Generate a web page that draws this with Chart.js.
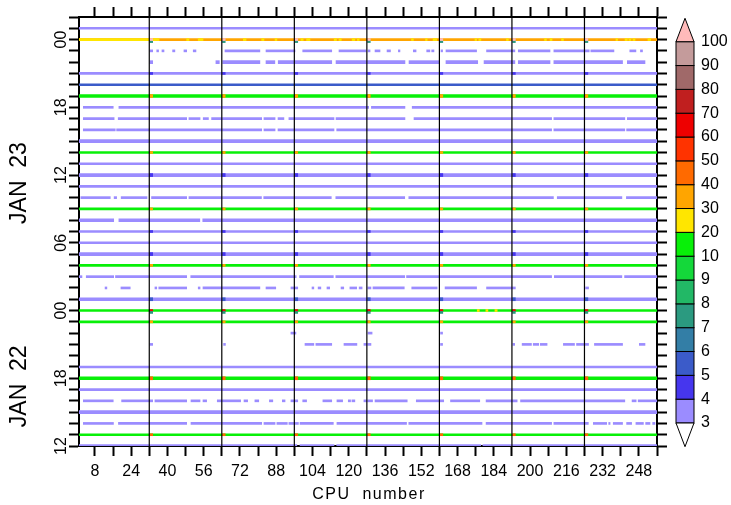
<!DOCTYPE html>
<html>
<head>
<meta charset="utf-8">
<script src="https://cdn.jsdelivr.net/npm/chart.js@4.4.1/dist/chart.umd.min.js"></script>
<style>
  html, body { margin: 0; padding: 0; background: #fff; }
  #box { width: 731px; height: 505px; }
</style>
</head>
<body>
<div id="box"><canvas id="cpu"></canvas></div>
<script>
/* Load per CPU for each hourly sample. Time is counted in hours from
   JAN 22 00:00, so 12 = JAN 22 12:00 and 48 = JAN 24 00:00. */

const cpuTicks  = [8, 16, 24, 32, 40, 48, 56, 64, 72, 80, 88, 96, 104, 112, 120, 128,
                   136, 144, 152, 160, 168, 176, 184, 192, 200, 208, 216, 224, 232, 240, 248, 256];
const cpuLabels = [8, 24, 40, 56, 72, 88, 104, 120, 136, 152, 168, 184, 200, 216, 232, 248];
const boardEdges = [32, 64, 96, 128, 160, 192, 224];
const hourLabelAt = [12, 18, 24, 30, 36, 42, 48];
const hourLabels  = ['12', '18', '00', '06', '12', '18', '00'];
const dayNames = ['JAN  22', 'JAN  23'];
const dayStart = [12, 24];
const dayEnd   = [24, 48];

// colour levels of the key
const levelEdges  = [3, 4, 5, 6, 7, 8, 9, 10, 20, 30, 40, 50, 60, 70, 80, 90, 100];
const levelColors = ['#9b8cff', '#4636ee', '#3b5bc9', '#337ea6', '#2b9a80', '#22b866',
                     '#14d83a', '#08f008', '#ffe600', '#ffa500', '#ff6a00', '#ff3300',
                     '#ee0000', '#c01f1f', '#a06969', '#c49b9b'];
const overColor = '#ffbaba';

// one sample per hour: main level of the row
const rowHours  = [49, 48, 47, 46, 45, 44, 43, 42, 41, 40, 39, 38, 37, 36, 35, 34, 33, 32, 31,
                   30, 29, 28, 27, 26, 25, 24, 23, 22, 21, 19, 18, 17, 16, 15, 14, 13, 12];
const rowLevels = [3.5, 35, 3.5, 3.5, 3.5, 5.5, 15, 3.5, 3.5, 3.5, 3.5, 15, 3.5, 3.5, 3.5, 3.5, 15, 3.5, 3.5,
                   3.5, 3.5, 15, 3.5, 3.5, 3.5, 15, 15, 3.5, 3.5, 3.5, 15, 3.5, 3.5, 3.5, 3.5, 15, 3.5];

// CPU ranges without a value in otherwise full rows
const rowGaps = {
  42: [[0, 2.9], [16.1, 18.6], [128.8, 130], [144.8, 148]],
  41: [[0, 2.9], [16.5, 18.3], [48.5, 49.5], [54.4, 55.8], [58.1, 59.5], [81.6, 82.6], [87.5, 88.8],
       [91.4, 93.6], [113.5, 114.4], [144.8, 148.8], [209.5, 210.5], [241.8, 242.9]],
  40: [[0, 2.9], [17, 17.6], [81.6, 82.6], [87.5, 88.8], [113.5, 114.7], [209.5, 210.5], [241.8, 242.6]],
  34: [[0, 1.8], [14.8, 16.5], [17.6, 19.6], [31, 33], [48.5, 49.5], [81.5, 82.5], [112.3, 114.3],
       [144.7, 146.5], [210.3, 212], [240.5, 242.5]],
  32: [[16.3, 18.6], [54.3, 55.6]],
  27: [[2.3, 4.2], [16.3, 17.1], [48.5, 50.3], [96.8, 98.3], [113.2, 114.3], [144.7, 145.5],
       [209.5, 210.7], [240.5, 241.7]],
  16: [[0, 2.9], [16.1, 19.8], [33.5, 34.5], [48.5, 50.4], [54.4, 55.7], [57.3, 62], [72.3, 73.8],
       [75.4, 78.6], [80.3, 85], [86.5, 90.7], [91.9, 94.5], [97.5, 99.7], [101.4, 108.6],
       [112.5, 114.8], [117.3, 119.8], [120.8, 121.4], [122.7, 126.7], [127.9, 128.3],
       [130.5, 131.6], [145.8, 149.8], [161.9, 164.9], [177.8, 180.6], [194.3, 195.8],
       [241.8, 245], [246.8, 247.7]],
  14: [[0, 2.9], [16.2, 18.4], [48.5, 50.4], [81.6, 82.6], [87.5, 88.3], [92.9, 93.6], [97.8, 98.5],
       [113.2, 114.8], [145.5, 146.5], [178.8, 180.6], [209.5, 210.5], [225.7, 227.9],
       [233.8, 234.7], [235.3, 236.7], [240.8, 242.6], [244.8, 246.7], [250, 251],
       [252.9, 254.1], [255.1, 257]],
  12: [[97.1, 98.5], [113.5, 114.7], [178.2, 179.2]],
};

// rows with only a few CPUs reporting: the CPU ranges that have a value
const rowParts = {
  47: [[32.3, 33.5], [35.3, 36.1], [37.6, 38.5], [42.3, 43.3], [47.3, 48.5], [51.4, 52.6],
       [65.4, 80.8], [83.5, 96.3], [99.7, 112.5], [115.7, 127.6], [128.5, 129.4], [131.6, 133.8],
       [136.9, 138.4], [141.9, 142.6], [148.5, 149.7], [154.4, 155.8], [156.6, 157.6],
       [160.7, 161.4], [162.9, 176.4], [180.8, 193.3], [194.8, 208.8], [210.5, 226.1],
       [226.8, 237], [244, 246.7], [248.7, 249.6]],
  46: [[32.3, 33.5], [61.4, 62.9], [64.4, 80.8], [83.5, 87.4], [88.9, 112.5], [114.4, 144.8],
       [146.6, 159.9], [162.9, 176.9], [179.7, 193.3], [194.8, 208.8], [210.5, 240.8], [242.9, 250.7]],
  26: [[12.5, 13.3], [19.5, 23.6], [34.5, 35.3], [36.2, 48.5], [53.6, 54.4], [55.7, 80.8],
       [83.5, 87.8], [94.5, 97.5], [103.8, 104.6], [106.5, 107.7], [110.4, 111.6], [116.6, 117.8],
       [120.5, 123.5], [124.6, 125.9], [128.4, 129.8], [130.7, 144.5], [147.8, 159],
       [162.5, 176.4], [180.8, 193.5], [224.5, 225.8]],
  22: [[94.5, 96.7], [128.5, 130.3], [160.5, 161.4]],
  21: [[32.3, 33.5], [64.8, 65.6], [100.7, 104.6], [105.5, 112.5], [117.9, 123.6], [126.7, 127.9],
       [128.3, 129.8], [160.5, 161.4], [192.4, 193.2], [196.5, 200.6], [201.4, 203.8],
       [204.5, 207.5], [214.7, 219.6], [220.5, 225.8], [228.4, 240.8], [248.2, 250.7]],
};

// short runs at another level: [hour, first CPU, last CPU, level]
const hotRuns = [
  [48, 0, 32.3, 25], [48, 33.5, 36.3, 25], [48, 48.5, 49.5, 25], [48, 53.6, 55.7, 25],
  [48, 73.5, 74.7, 25], [48, 81.6, 82.6, 25], [48, 87.5, 88.3, 25], [48, 98.9, 99.9, 25],
  [48, 101.4, 102.9, 25], [48, 113.6, 114.6, 25], [48, 115.7, 116.7, 25], [48, 121.5, 122.7, 25],
  [48, 123.8, 124.6, 25], [48, 147.7, 148.5, 25], [48, 153.9, 154.6, 25], [48, 157.2, 158.8, 25],
  [48, 175.7, 176.4, 25], [48, 177.4, 178.3, 25], [48, 189.6, 190.4, 25], [48, 206.4, 207.2, 25],
  [48, 208.8, 209.7, 25], [48, 213.9, 214.7, 25], [48, 237.9, 238.6, 25], [48, 241.9, 242.9, 25],
  [48, 243.6, 244.5, 25], [48, 245.4, 246.3, 25], [48, 252, 253.2, 25],
  [24, 176.7, 177.6, 25], [24, 180.5, 181.4, 25], [24, 184.5, 185.5, 25],
];

// first CPU of each 32-CPU board, and its level in some rows
const boardCpus   = [33, 65, 97, 129, 161, 193, 225];
const boardHours  = [48, 47.82, 45, 43, 38, 36, 33, 31, 29, 28, 25, 24, 23.83, 23, 18, 13];
const boardLevels = [105, 7.5, 4.5, 35, 35, 4.5, 35, 4.5, 4.5, 35, 5.5, 65, 7.5, 35, 45, 45];

// samples drawn as wider bands
const wideRows = [46, 43, 39, 36, 32, 29, 25, 18, 15, 12];

function colorOf(v) {
  if (v >= levelEdges[levelEdges.length - 1]) return overColor;
  for (let i = levelEdges.length - 2; i >= 0; i--) if (v >= levelEdges[i]) return levelColors[i];
  return '#ffffff';
}

function fillRanges(gaps) {
  const out = []; let from = 0;
  gaps.forEach(g => { if (g[0] > from) out.push([from, g[0]]); from = g[1]; });
  if (from < 257) out.push([from, 257]);
  return out;
}

const buckets = {};
function put(hour, a, b, level, order) {
  const thick = wideRows.includes(hour) ? 3 : 2;
  const color = colorOf(level);
  const key = color + thick + order;
  if (!buckets[key]) buckets[key] = { data: [], backgroundColor: color, barThickness: thick,
    borderWidth: 0, grouped: false, order };
  buckets[key].data.push({ x: [a, b], y: hour });
}

rowHours.forEach((h, i) => {
  const parts = rowParts[h] || fillRanges(rowGaps[h] || []);
  parts.forEach(p => put(h, p[0], p[1], rowLevels[i], 3));
});
hotRuns.forEach(r => put(r[0], r[1], r[2], r[3], 2));
boardHours.forEach((h, i) => boardCpus.forEach(c => put(h, c - 0.7, c + 0.5, boardLevels[i], 1)));

const FONT = '"Liberation Sans", Arial, sans-serif';
Chart.defaults.font.family = FONT;
Chart.defaults.font.size = 16;
Chart.defaults.color = '#000';

const decorations = {
  id: 'decorations',
  afterDatasetsDraw(chart) {
    // board separators drawn over the bands
    const ctx = chart.ctx, xs = chart.scales.x, area = chart.chartArea;
    ctx.save();
    ctx.strokeStyle = '#000';
    ctx.lineWidth = 1.2;
    boardEdges.forEach(v => {
      const px = xs.getPixelForValue(v);
      ctx.beginPath(); ctx.moveTo(px, area.top); ctx.lineTo(px, area.bottom); ctx.stroke();
    });
    ctx.restore();
  },
  afterDraw(chart) {
    const ctx = chart.ctx, ys = chart.scales.y, area = chart.chartArea;
    ctx.save();
    ctx.fillStyle = '#000';
    ctx.textAlign = 'center';
    ctx.textBaseline = 'middle';
    ctx.font = '16px ' + FONT;
    hourLabelAt.forEach((h, i) => {
      ctx.save();
      ctx.translate(61.5, ys.getPixelForValue(h));
      ctx.rotate(-Math.PI / 2);
      ctx.fillText(hourLabels[i], 0, 0);
      ctx.restore();
    });
    ctx.font = '23px ' + FONT;
    dayNames.forEach((d, i) => {
      ctx.save();
      ctx.translate(20, ys.getPixelForValue((dayStart[i] + dayEnd[i]) / 2) + 8);
      ctx.rotate(-Math.PI / 2);
      ctx.fillText(d, 0, 0);
      ctx.restore();
    });
    ctx.font = '16px ' + FONT;
    ctx.letterSpacing = '1.5px';
    ctx.fillText('CPU  number', (area.left + area.right) / 2 + 1, 495);
    ctx.letterSpacing = '0px';

    // colour key
    const L = 676, R = 694, T = 41.7, B = 423, mid = (L + R) / 2;
    const n = levelColors.length, h = (B - T) / n;
    ctx.lineWidth = 1;
    ctx.strokeStyle = '#000';
    for (let k = 0; k < n; k++) {
      ctx.fillStyle = levelColors[k];
      ctx.fillRect(L, B - (k + 1) * h, R - L, h);
      ctx.strokeRect(L, B - (k + 1) * h, R - L, h);
    }
    ctx.beginPath(); ctx.moveTo(L, T); ctx.lineTo(mid, 18.3); ctx.lineTo(R, T); ctx.closePath();
    ctx.fillStyle = overColor; ctx.fill(); ctx.stroke();
    ctx.beginPath(); ctx.moveTo(L, B); ctx.lineTo(mid, 446.7); ctx.lineTo(R, B); ctx.closePath();
    ctx.fillStyle = '#fff'; ctx.fill(); ctx.stroke();
    ctx.fillStyle = '#000';
    ctx.textAlign = 'left';
    levelEdges.forEach((v, k) => ctx.fillText(String(v), 701, B - k * h));
    ctx.restore();
  }
};

const tickMarks = { drawOnChartArea: false, tickColor: '#000', tickWidth: 2, tickLength: 10 };
const hourTicks = s => { const t = []; for (let v = 12; v <= 50; v++) t.push({ value: v }); s.ticks = t; };
const cpuTickList = s => { s.ticks = cpuTicks.map(v => ({ value: v })); };

new Chart(document.getElementById('cpu'), {
  type: 'bar',
  data: { datasets: Object.values(buckets) },
  options: {
    indexAxis: 'y',
    responsive: true, maintainAspectRatio: false, animation: false, events: [],
    layout: { padding: 0 },
    plugins: { legend: { display: false }, tooltip: { enabled: false } },
    scales: {
      x: { type: 'linear', position: 'bottom', min: 1, max: 256,
        afterBuildTicks: cpuTickList,
        afterFit: s => { s.height = 59; },
        ticks: { autoSkip: false, maxRotation: 0, padding: 6,
          callback: v => cpuLabels.includes(v) ? String(v) : '' },
        grid: tickMarks,
        border: { color: '#000', width: 2 } },
      x2: { type: 'linear', axis: 'x', position: 'top', min: 1, max: 256,
        afterBuildTicks: cpuTickList,
        afterFit: s => { s.height = 17; },
        ticks: { display: false, autoSkip: false },
        grid: tickMarks,
        border: { color: '#000', width: 2 } },
      y: { type: 'linear', position: 'left', min: 12, max: 50, offset: false,
        afterBuildTicks: hourTicks,
        afterFit: s => { s.width = 79; },
        ticks: { autoSkip: false, callback: () => '' },
        grid: { offset: false, ...tickMarks },
        border: { color: '#000', width: 2 } },
      y2: { type: 'linear', axis: 'y', position: 'right', min: 12, max: 50, offset: false,
        afterBuildTicks: hourTicks,
        afterFit: s => { s.width = 74; },
        ticks: { display: false, autoSkip: false },
        grid: { offset: false, ...tickMarks },
        border: { color: '#000', width: 2 } },
    },
  },
  plugins: [decorations],
});
</script>
</body>
</html>
